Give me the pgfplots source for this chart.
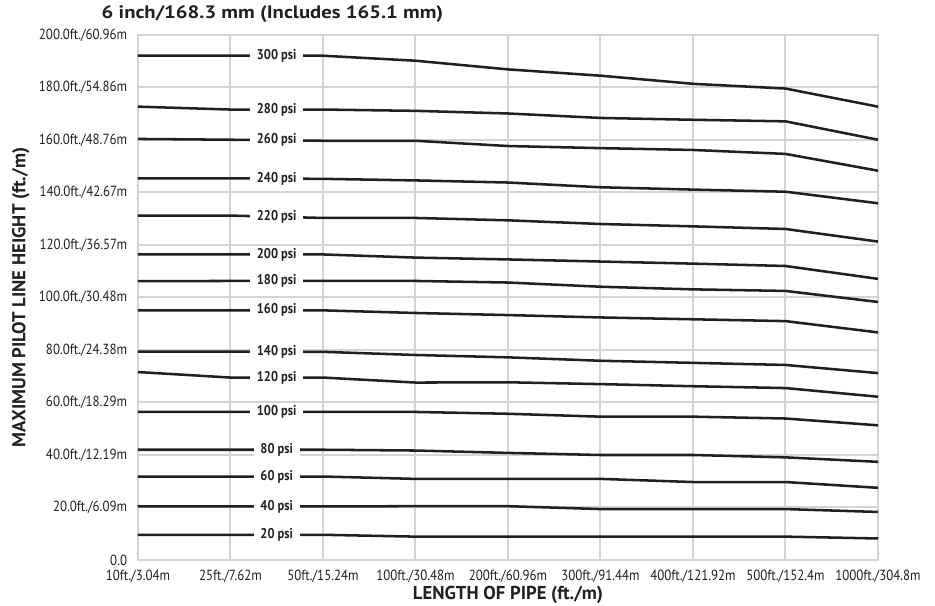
\documentclass[border=0pt]{standalone}
\usepackage{pgfplots}
\usepackage{pgfplotstable}
\pgfplotsset{compat=1.18}
\usepackage{fontspec}
\setmainfont{PT Sans}
\newfontfamily\cond[FakeStretch=0.88]{PT Sans}
\newfontfamily\wide[FakeStretch=1.15]{PT Sans}
\definecolor{gridgray}{RGB}{212,212,212}
\definecolor{ink}{RGB}{35,31,32}
\tikzset{psi/.style={fill=white, inner xsep=5pt, inner ysep=1.5pt, text=ink,
    font=\cond\bfseries\fontsize{10.6}{12}\selectfont}}
\pgfplotsset{curve/.style={ink, solid, line width=1.9pt, mark=none}}

% max pilot line height (ft) per pipe length category, one column per pressure
\pgfplotstableread{
x p300  p280  p260  p240  p220  p200  p180  p160  p140  p120  p100  p80   p60   p40   p20
0 192.1 172.7 160.4 145.4 131.2 116.4 106.2 95.1  79.4  71.6  56.4  42.0  31.8  20.4  9.6
1 192.1 171.6 160.1 145.4 131.2 116.4 106.3 95.1  79.4  69.5  56.4  42.0  31.8  20.4  9.6
2 192.1 171.6 159.7 145.2 130.3 116.4 106.3 95.1  79.3  69.5  56.4  42.0  31.8  20.4  9.6
3 190.2 171.1 159.7 144.6 130.3 115.2 106.3 94.1  78.1  67.6  56.4  41.7  30.9  20.5  8.9
4 186.9 170.1 157.7 143.8 129.4 114.5 105.7 93.3  77.2  67.7  55.7  40.8  30.9  20.5  8.9
5 184.5 168.4 156.9 142.0 128.0 113.7 104.1 92.4  75.9  67.0  54.6  40.0  30.9  19.4  8.9
6 181.4 167.7 156.2 141.1 127.1 112.9 103.1 91.7  75.1  66.2  54.6  40.0  29.7  19.4  8.9
7 179.6 167.1 154.7 140.3 126.1 112.0 102.5 91.0  74.3  65.5  53.9  39.1  29.7  19.4  8.9
8 172.7 160.1 148.3 135.9 121.3 107.1 98.3  86.7  71.2  62.2  51.3  37.4  27.5  18.3  8.2
}\pipedata

\begin{document}
\begin{tikzpicture}[x=1pt,y=1pt]
\useasboundingbox (-103.5,-34.5) rectangle (597.75,420);
\begin{axis}[
  at={(0,0)}, anchor=south west,
  width=555pt, height=393.75pt, scale only axis,
  xmin=0, xmax=8, ymin=0, ymax=200,
  xtick={0,...,8}, ytick={0,20,...,200},
  xticklabels={10ft./3.04m,25ft./7.62m,50ft./15.24m,100ft./30.48m,200ft./60.96m,300ft./91.44m,400ft./121.92m,500ft./152.4m,1000ft./304.8m},
  yticklabels={0.0,20.0ft./6.09m,40.0ft./12.19m,60.0ft./18.29m,80.0ft./24.38m,100.0ft./30.48m,120.0ft./36.57m,140.0ft./42.67m,160.0ft./48.76m,180.0ft./54.86m,200.0ft./60.96m},
  major tick length=0pt,
  grid=major,
  major grid style={gridgray, line width=1.5pt},
  axis line style={gridgray, line width=1.5pt},
  ticklabel style={font=\cond\fontsize{11}{13}\selectfont, text=ink},
  yticklabel style={anchor=east, inner sep=0pt, xshift=-8pt},
  xticklabel style={anchor=north, inner sep=0pt, yshift=-7pt},
  xlabel={LENGTH OF PIPE (ft./m)},
  ylabel={MAXIMUM PILOT LINE HEIGHT (ft./m)},
  label style={font=\bfseries\fontsize{14}{16}\selectfont, text=ink},
  xlabel style={at={(axis description cs:0.5,0)}, anchor=base, yshift=-29.6pt},
  ylabel style={at={([xshift=-88pt]axis description cs:0,0.5)}, anchor=center},
  clip=false,
]
\addplot[curve] table[x=x, y=p300] {\pipedata};
\addplot[curve] table[x=x, y=p280] {\pipedata};
\addplot[curve] table[x=x, y=p260] {\pipedata};
\addplot[curve] table[x=x, y=p240] {\pipedata};
\addplot[curve] table[x=x, y=p220] {\pipedata};
\addplot[curve] table[x=x, y=p200] {\pipedata};
\addplot[curve] table[x=x, y=p180] {\pipedata};
\addplot[curve] table[x=x, y=p160] {\pipedata};
\addplot[curve] table[x=x, y=p140] {\pipedata};
\addplot[curve] table[x=x, y=p120] {\pipedata};
\addplot[curve] table[x=x, y=p100] {\pipedata};
\addplot[curve] table[x=x, y=p80] {\pipedata};
\addplot[curve] table[x=x, y=p60] {\pipedata};
\addplot[curve] table[x=x, y=p40] {\pipedata};
\addplot[curve] table[x=x, y=p20] {\pipedata};

\node[psi] at (axis cs:1.5,192.1) {300 psi};
\node[psi] at (axis cs:1.5,171.6) {280 psi};
\node[psi] at (axis cs:1.5,159.9) {260 psi};
\node[psi] at (axis cs:1.5,145.3) {240 psi};
\node[psi] at (axis cs:1.5,130.8) {220 psi};
\node[psi] at (axis cs:1.5,116.4) {200 psi};
\node[psi] at (axis cs:1.5,106.3) {180 psi};
\node[psi] at (axis cs:1.5,95.1) {160 psi};
\node[psi] at (axis cs:1.5,79.4) {140 psi};
\node[psi] at (axis cs:1.5,69.5) {120 psi};
\node[psi] at (axis cs:1.5,56.4) {100 psi};
\node[psi] at (axis cs:1.5,42.0) {80 psi};
\node[psi] at (axis cs:1.5,31.8) {60 psi};
\node[psi] at (axis cs:1.5,20.4) {40 psi};
\node[psi] at (axis cs:1.5,9.6) {20 psi};
\end{axis}
\node[anchor=base west, text=ink, font=\wide\bfseries\fontsize{13.5}{15}\selectfont]
  at (-30.75,406.1) {6 inch/168.3 mm (Includes 165.1 mm)};
\end{tikzpicture}
\end{document}
